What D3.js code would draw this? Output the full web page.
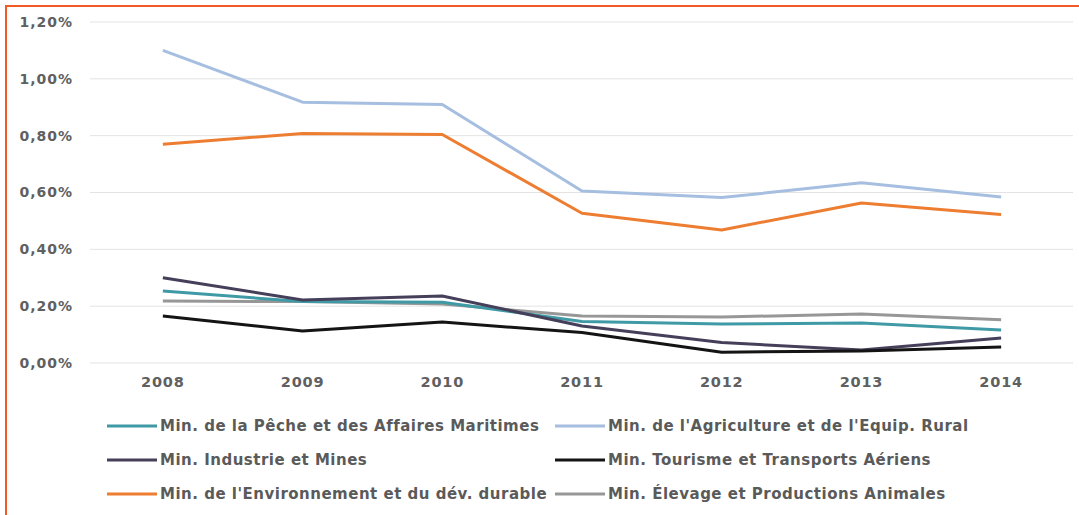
<!DOCTYPE html>
<html lang="fr">
<head>
<meta charset="UTF-8">
<title>Ministères - évolution 2008-2014</title>
<script src="https://d3js.org/d3.v7.min.js"></script>
<style>
    html, body { margin: 0; background: #fff; }
    svg { display: block; font-family: 'DejaVu Sans', sans-serif; }
    .legend text { fill: #5a5a5a; font-size: 15px; font-weight: bold; letter-spacing: 0.5px; }
</style>
</head>
<body>
<svg width="1079" height="515"></svg>
<script>
    // years on the x axis
    const years = ["2008", "2009", "2010", "2011", "2012", "2013", "2014"];
    const yTicks = [0, 0.002, 0.004, 0.006, 0.008, 0.010, 0.012];

    // values, in fraction (0.011 = 1,10%)
    const peche = [0.00253, 0.00216, 0.00214, 0.00146, 0.00137, 0.00141, 0.00116];
    const agriculture = [0.01100, 0.00918, 0.00910, 0.00605, 0.00582, 0.00634, 0.00584];
    const industrie = [0.00300, 0.00222, 0.00236, 0.00130, 0.00072, 0.00046, 0.00088];
    const tourisme = [0.00165, 0.00113, 0.00144, 0.00107, 0.00038, 0.00042, 0.00056];
    const environnement = [0.00770, 0.00808, 0.00804, 0.00527, 0.00468, 0.00563, 0.00523];
    const elevage = [0.00218, 0.00216, 0.00208, 0.00165, 0.00162, 0.00172, 0.00152];

    const series = [
        { name: "Min. de la Pêche et des Affaires Maritimes", values: peche, color: "#3f9aa6" },
        { name: "Min. de l'Agriculture et de l'Equip. Rural", values: agriculture, color: "#a6bee0" },
        { name: "Min. Industrie et Mines", values: industrie, color: "#463f5a" },
        { name: "Min. Tourisme et Transports Aériens", values: tourisme, color: "#141414" },
        { name: "Min. de l'Environnement et du dév. durable", values: environnement, color: "#ed7d31" },
        { name: "Min. Élevage et Productions Animales", values: elevage, color: "#979797" }
    ];
    // draw order: low lines last so the dark ones sit on top like the original
    const drawOrder = [1, 4, 5, 0, 2, 3];

    const svg = d3.select("svg");

    // orange frame (only top and left visible in the crop)
    svg.append("path")
        .attr("d", "M6,515 L6,6 L1079,6")
        .attr("fill", "none")
        .attr("stroke", "#f15a24")
        .attr("stroke-width", 2);

    const x = d3.scaleBand().domain(years).range([93, 1071]);
    const y = d3.scaleLinear().domain([0, 0.012]).range([363, 22]);

    const fmt = d => d3.format(".2f")(d * 100).replace(".", ",") + "%";

    // gridlines
    svg.append("g")
        .selectAll("line")
        .data(yTicks)
        .enter().append("line")
        .attr("x1", 90).attr("x2", 1073)
        .attr("y1", d => y(d)).attr("y2", d => y(d))
        .attr("stroke", "#e3e3e3")
        .attr("stroke-width", 1);

    // y axis labels
    const yAxis = svg.append("g")
        .attr("transform", "translate(73,0)")
        .call(d3.axisLeft(y).tickValues(yTicks).tickFormat(fmt).tickSize(0).tickPadding(0));
    yAxis.select(".domain").remove();
    yAxis.attr("font-family", null).attr("font-size", null);
    yAxis.selectAll("text")
        .attr("fill", "#606060")
        .style("font-size", "14px")
        .style("font-weight", "bold")
        .style("letter-spacing", "1px");

    // x axis labels
    const xAxis = svg.append("g")
        .attr("transform", "translate(0,377)")
        .call(d3.axisBottom(x).tickSize(0).tickPadding(0));
    xAxis.select(".domain").remove();
    xAxis.attr("font-family", null).attr("font-size", null);
    xAxis.selectAll("text")
        .attr("fill", "#606060")
        .style("font-size", "14.5px")
        .style("font-weight", "bold")
        .style("letter-spacing", "0.8px");

    const line = d3.line()
        .x((d, i) => x(years[i]) + x.bandwidth() / 2)
        .y(d => y(d));

    svg.append("g")
        .selectAll("path")
        .data(drawOrder.map(i => series[i]))
        .enter().append("path")
        .attr("d", d => line(d.values))
        .attr("fill", "none")
        .attr("stroke", d => d.color)
        .attr("stroke-width", 3)
        .attr("stroke-linejoin", "round");

    // legend, two columns
    const legend = svg.append("g").attr("class", "legend")
        .selectAll("g")
        .data(series)
        .enter().append("g")
        .attr("transform", (d, i) => `translate(${i % 2 === 0 ? 107 : 555},${426 + Math.floor(i / 2) * 34})`);

    legend.append("line")
        .attr("x1", 0).attr("x2", 50)
        .attr("stroke", d => d.color)
        .attr("stroke-width", 3);

    legend.append("text")
        .attr("x", 53)
        .attr("dy", "0.35em")
        .text(d => d.name);
</script>
</body>
</html>
